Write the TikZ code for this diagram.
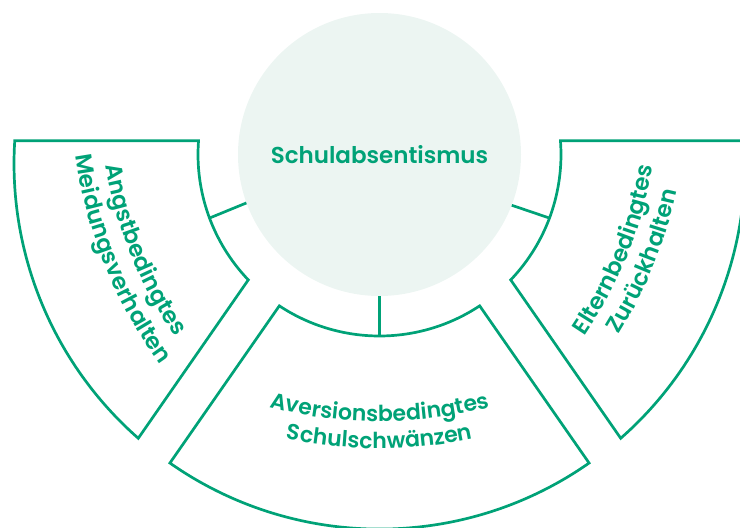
\documentclass[tikz,border=0pt]{standalone}
\usepackage{fontspec}
\setmainfont{Poppins}[BoldFont={Poppins SemiBold}]
\usetikzlibrary{calc,decorations.text}
\definecolor{accent}{HTML}{00A277}
\definecolor{corefill}{HTML}{ECF5F2}
\begin{document}
\begin{tikzpicture}[x=1pt,y=1pt,
  sector/.style={draw=accent, line width=2.7pt, line join=miter},
  link/.style={draw=accent, line width=2.7pt},
  arctext/.style={decorate, decoration={text along path, text align=center,
      text={|\bfseries\fontsize{22}{25}\selectfont\color{accent}|#1}}},
  sidetext/.style={decorate, decoration={text along path, text align=center,
      text={|\bfseries\fontsize{23}{26}\selectfont\color{accent}|#1}}}
  ]
\useasboundingbox (0,0) rectangle (740,-528);
\clip (0,0) rectangle (740,-528);
\coordinate (C) at (379.5,-154.5);
\coordinate (D) at (379.5,-163.7);
\node[circle, fill=corefill, minimum size=283pt, inner sep=0pt] (core) at (C) {};
\node[text=accent, font=\bfseries\fontsize{23}{27}\selectfont] (title) at (379.5,-155) {Schulabsentismus};
% left sector
\draw[sector] ($(D)+(176.4:365.5)$) -- ($(C)+(175.64:181.5)$)
  arc[start angle=175.64, end angle=223.7, radius=181.5]
  -- ($(D)+(228.7:365.5)$) arc[start angle=228.7, end angle=176.4, radius=365.5] -- cycle;
% bottom sector
\draw[sector] ($(C)+(236.5:181.5)$)
  arc[start angle=236.5, end angle=303.5, radius=181.5]
  -- ($(D)+(305:365.4)$) arc[start angle=305, end angle=235, radius=365.4] -- cycle;
% right sector
\draw[sector] ($(D)+(3.6:365.5)$) -- ($(C)+(4.36:181.5)$)
  arc[start angle=4.36, end angle=-43.7, radius=181.5]
  -- ($(D)+(-48.7:365.5)$) arc[start angle=-48.7, end angle=3.6, radius=365.5] -- cycle;
% connectors
\coordinate (inL) at ($(C)+(200.5:181.5)$);
\coordinate (inB) at ($(C)+(270:181.5)$);
\coordinate (inR) at ($(C)+(339.5:181.5)$);
\draw[link] (core.200.5) -- (inL);
\draw[link] (core.270) -- (inB);
\draw[link] (core.339.5) -- (inR);
% text arcs
\coordinate (OL) at ($(C)+(22:165)$);
\coordinate (OB) at ($(C)+(90:165)$);
\coordinate (OR) at ($(C)+(158:165)$);
\path[sidetext={Angstbedingtes}] ($(OL)+(172:433)$) arc[start angle=172, end angle=232, radius=433];
\path[sidetext={Meidungsverhalten}] ($(OL)+(172:461)$) arc[start angle=172, end angle=232, radius=461];
\path[arctext={Aversionsbedingtes}] ($(OB)+(240:432)$) arc[start angle=240, end angle=300, radius=432];
\path[arctext={Schulschwänzen}] ($(OB)+(240:459)$) arc[start angle=240, end angle=300, radius=459];
\path[sidetext={Elternbedingtes}] ($(OR)+(308:433)$) arc[start angle=308, end angle=368, radius=433];
\path[sidetext={Zurückhalten}] ($(OR)+(308:461)$) arc[start angle=308, end angle=368, radius=461];
\end{tikzpicture}
\end{document}
